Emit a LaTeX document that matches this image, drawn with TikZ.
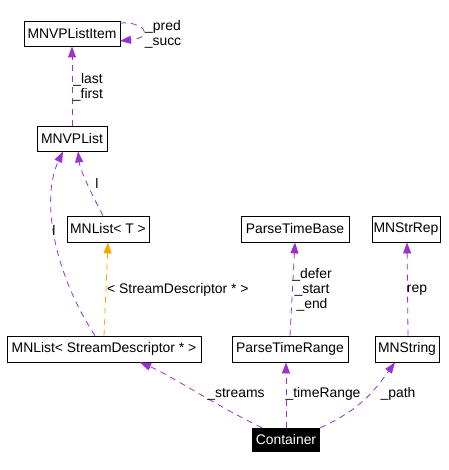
\documentclass[tikz,border=0pt]{standalone}
\usepackage{fontspec}
\setmainfont{Liberation Sans}
\usetikzlibrary{arrows.meta}
\definecolor{edgepurple}{HTML}{9A32CD}
\definecolor{edgeorange}{HTML}{FFA500}
\tikzset{
  cls/.style={draw=black, line width=0.8pt, fill=white, inner sep=0pt, font=\fontsize{13.9}{15}\selectfont},
  dark/.style={fill=black, text=white, inner sep=0pt, font=\fontsize{13.9}{15}\selectfont},
  uses/.style={draw=edgepurple, line width=0.8pt, dash pattern=on 6pt off 5pt, -{Triangle[length=11pt,width=8pt,fill=edgepurple]}},
  inh/.style={draw=edgeorange, line width=0.8pt, dash pattern=on 6pt off 5pt, -{Triangle[length=11pt,width=8pt,fill=edgeorange]}},
  lbl/.style={inner sep=0pt, align=center, font=\fontsize{13.9}{15}\selectfont},
}
\begin{document}
\begin{tikzpicture}[x=1pt, y=-1pt]
\useasboundingbox (0,0) rectangle (448,470);
% class boxes
\node[cls, minimum width=96pt, minimum height=25pt] (item) at (72,33.5) {MNVPListItem};
\node[cls, minimum width=70pt, minimum height=25pt] (vplist) at (72,138.5) {MNVPList};
\node[cls, minimum width=82pt, minimum height=26pt] (listT) at (108,229) {MNList< T >};
\node[cls, minimum width=194pt, minimum height=26pt] (listSD) at (104,349) {MNList< StreamDescriptor * >};
\node[cls, minimum width=108pt, minimum height=26pt] (ptbase) at (295,229) {ParseTimeBase};
\node[cls, minimum width=68pt, minimum height=26pt] (strrep) at (406,229) {MNStrRep};
\node[cls, minimum width=116pt, minimum height=26pt] (ptrange) at (290,349) {ParseTimeRange};
\node[cls, minimum width=64pt, minimum height=26pt] (mnstring) at (407,349) {MNString};
\node[dark, minimum width=68pt, minimum height=24pt] (cont) at (286,440) {Container};
% coordinates on box borders
\coordinate (itemR1) at (120,23);
\coordinate (itemR2) at (120,41);
% edges
\draw[uses] (vplist.north) -- (item.south);
\draw[uses] (itemR1) .. controls (143,21) and (156,37) .. (itemR2);
\draw[uses] ([xshift=-5pt]listT.north) .. controls (92,195) and (80,170) .. ([xshift=6pt]vplist.south);
\draw[uses] ([xshift=-9pt]listSD.north) .. controls (55,275) and (40,200) .. ([xshift=-9pt]vplist.south);
\draw[inh] (listSD.north) -- (listT.south);
\draw[uses] (ptrange.north) -- (ptbase.south);
\draw[uses] ([xshift=1pt]mnstring.north) -- ([xshift=1pt]strrep.south);
\draw[uses] ([xshift=-24pt]cont.north) .. controls (215,405) and (170,375) .. ([xshift=36pt]listSD.south);
\draw[uses] (cont.north) -- ([xshift=-4pt]ptrange.south);
\draw[uses] ([xshift=34pt]cont.north) .. controls (360,410) and (375,390) .. ([xshift=-12pt]mnstring.south);
% labels
\node[lbl] (l1) at (88,87) {\_last\\\_first};
\node[lbl] (l2) at (163,34) {\_pred\\\_succ};
\node[lbl] (l3) at (97,183) {l};
\node[lbl] (l4) at (54,230) {l};
\node[lbl, anchor=west] (l5) at (107,290) {< StreamDescriptor * >};
\node[lbl] (l6) at (312,290) {\_defer\\\_start\\\_end};
\node[lbl] (l7) at (417,290) {rep};
\node[lbl] (l8) at (236,394) {\_streams};
\node[lbl] (l9) at (323,394) {\_timeRange};
\node[lbl] (l10) at (398,394) {\_path};
\end{tikzpicture}
\end{document}
